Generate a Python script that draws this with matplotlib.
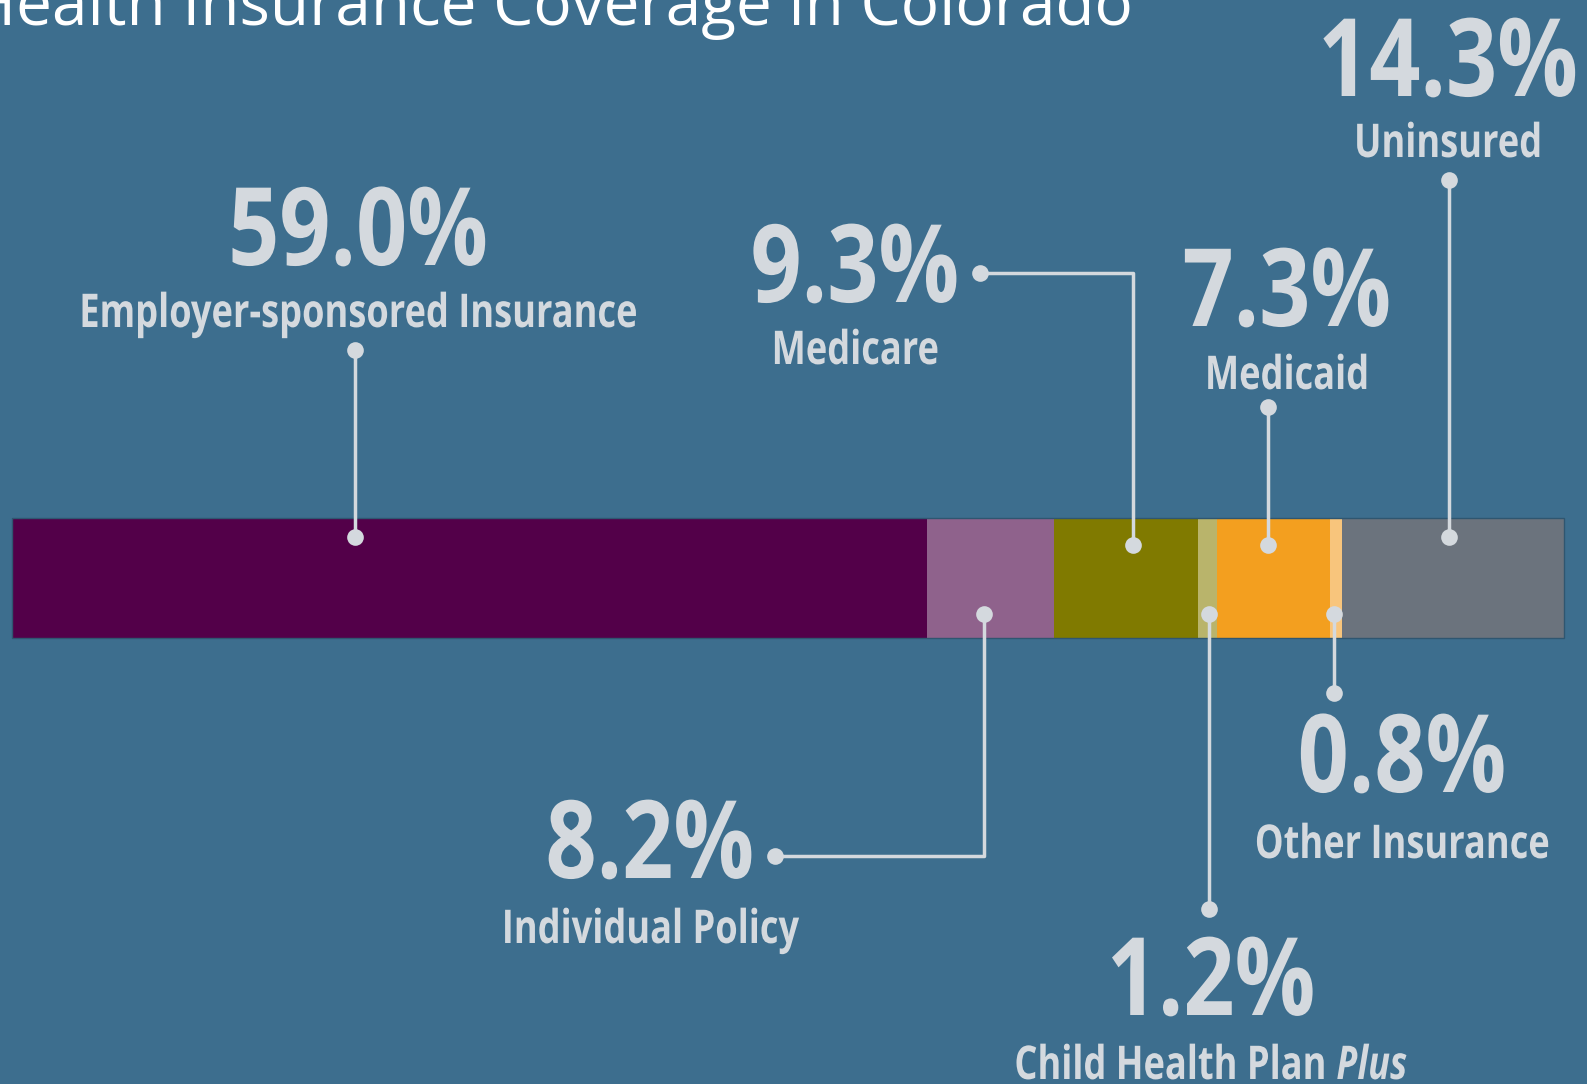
import matplotlib
matplotlib.use("Agg")
import matplotlib.pyplot as plt
from matplotlib import font_manager as fm
from matplotlib.patheffects import AbstractPathEffect
from matplotlib.transforms import Affine2D
import numpy as np

# Data
categories = ["Employer-sponsored Insurance", "Individual Policy", "Medicare",
              "Child Health Plan Plus", "Medicaid", "Other Insurance", "Uninsured"]
values = [59.0, 8.2, 9.3, 1.2, 7.3, 0.8, 14.3]
value_labels = ["59.0%", "8.2%", "9.3%", "1.2%", "7.3%", "0.8%", "14.3%"]
title = "Health Insurance Coverage in Colorado"

colors = ["#530049", "#8f628c", "#807a00", "#b9b46b", "#f39f1f", "#f8c57c", "#6b737d"]
bg = "#3d6e8e"
fg = "#d4d9de"

W, H = 1587, 1084
BAR_X0, BAR_X1 = 12, 1564
BAR_Y0, BAR_Y1 = 518, 638

total = sum(values)
ppu = (BAR_X1 - BAR_X0) / total  # pixels per percent


def px(x):
    # pixel x -> data x
    return (x - BAR_X0) / ppu


class Squeeze(AbstractPathEffect):
    """Draw text narrower (a condensed look), about its ink centre / left / right."""

    def __init__(self, sx, anchor="center"):
        super().__init__()
        self.sx = sx
        self.anchor = anchor

    def draw_path(self, renderer, gc, tpath, affine, rgbFace=None):
        c = 0
        if len(tpath.vertices):
            ext = tpath.get_extents()
            c = {"center": (ext.x0 + ext.x1) / 2, "left": ext.x0, "right": ext.x1}[self.anchor]
        aff = Affine2D().translate(-c, 0).scale(self.sx, 1).translate(c, 0) + affine
        renderer.draw_path(gc, tpath, aff, rgbFace)


# pick a family that really has a static bold face
def bold_family(cands):
    for fam in cands:
        for f in fm.fontManager.ttflist:
            if f.name == fam and f.style == "normal" and f.weight in (700, "bold"):
                return fam
    return "DejaVu Sans"


fam = bold_family(["Open Sans", "Noto Sans", "Lato", "Roboto"])
big = fm.FontProperties(family=[fam, "DejaVu Sans"], weight="bold")
it = fm.FontProperties(family=[fam, "DejaVu Sans"], weight="bold", style="italic")
num_size, lab_size = 78, 33.5

fig = plt.figure(figsize=(W / 100, H / 100), dpi=100, facecolor=bg)
ax = fig.add_axes([0, 0, 1, 1])
ax.set_facecolor(bg)
ax.set_xlim(px(0), px(W))
ax.set_ylim(H, 0)
ax.axis("off")

fig.canvas.draw()
r = fig.canvas.get_renderer()


def width(s, prop, size):
    t = ax.text(0, 0, s, fontproperties=prop, fontsize=size)
    w = t.get_window_extent(r).width
    t.remove()
    return w


# squeeze factors so the wide face gets the condensed widths of the original
sx_num = 260 / width("59.0%", big, num_size)
sx_lab = 558 / width("Employer-sponsored Insurance", big, lab_size)

lefts = np.concatenate([[0], np.cumsum(values)[:-1]])
ax.barh([(BAR_Y0 + BAR_Y1) / 2] * len(values), values, left=lefts,
        height=BAR_Y1 - BAR_Y0, color=colors, edgecolor="none", zorder=2)
ax.barh((BAR_Y0 + BAR_Y1) / 2, total, left=0, height=BAR_Y1 - BAR_Y0,
        facecolor="none", edgecolor="#2f5670", linewidth=1, zorder=3)

# where the dot sits along each segment, and which side of the bar
dot_frac = [0.375, 0.45, 0.55, 0.6, 0.45, 0.3, 0.48]
dot_y = [537, 614, 545, 614, 545, 614, 537]
# end of the leader line (label side): y px, and optional elbow end x px
end_y = [350, 856, 273, 909, 407, 693, 180]
end_x = [None, 775, 980, None, None, None, None]
# text block: center x px, number baseline, label baseline
text_x = [358, 650, 855, 1211, 1287, 1402, 1448]
num_base = [265, 878, 302, 1015, 326, 792, 96]
lab_base = [327, 943, 364, 1079, 389, 858, 157]

for i, cat in enumerate(categories):
    bx = lefts[i] + values[i] * dot_frac[i]
    by = dot_y[i]
    if end_x[i] is None:
        xs = [bx, bx]
        ys = [by, end_y[i]]
    else:
        xs = [bx, bx, px(end_x[i])]
        ys = [by, end_y[i], end_y[i]]
    ax.plot(xs, ys, color=fg, lw=2.5, zorder=4, solid_capstyle="butt")
    ax.plot([xs[0], xs[-1]], [ys[0], ys[-1]], "o", color=fg, ms=12, zorder=5,
            markeredgewidth=0)

    ax.text(px(text_x[i]), num_base[i], value_labels[i], ha="center", va="baseline",
            fontproperties=big, fontsize=num_size, color=fg, zorder=6,
            path_effects=[Squeeze(sx_num)])
    if cat == "Child Health Plan Plus":
        w1 = width("Child Health Plan", big, lab_size) * sx_lab
        w2 = width("Plus", it, lab_size) * sx_lab
        gap = 9
        mid = text_x[i] - (w1 + w2 + gap) / 2 + w1 + gap / 2
        ax.text(px(mid - gap / 2), lab_base[i], "Child Health Plan", ha="right",
                va="baseline", fontproperties=big, fontsize=lab_size, color=fg,
                zorder=6, path_effects=[Squeeze(sx_lab, "right")])
        ax.text(px(mid + gap / 2), lab_base[i], "Plus", ha="left", va="baseline",
                fontproperties=it, fontsize=lab_size, color=fg, zorder=6,
                path_effects=[Squeeze(sx_lab, "left")])
    else:
        ax.text(px(text_x[i]), lab_base[i], cat, ha="center", va="baseline",
                fontproperties=big, fontsize=lab_size, color=fg, zorder=6,
                path_effects=[Squeeze(sx_lab)])

ax.text(px(1133), 25, title, ha="right", va="baseline", fontsize=46,
        family=["Open Sans", "DejaVu Sans"], color="white", zorder=6)

fig.savefig("out.png", dpi=100, facecolor=bg)
